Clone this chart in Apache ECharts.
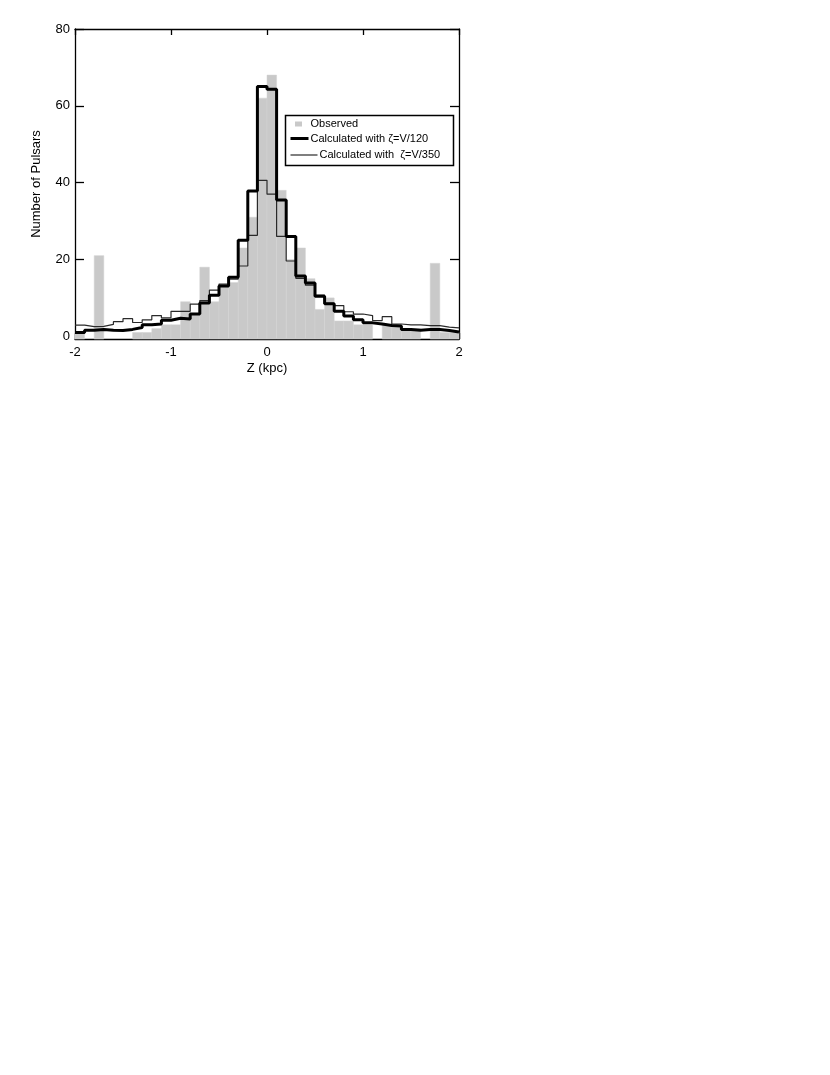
<!DOCTYPE html>
<html>
<head>
<meta charset="utf-8">
<title>Number of Pulsars vs Z</title>
<script src="https://cdn.jsdelivr.net/npm/echarts@6/dist/echarts.min.js"></script>
<style>
  html, body { margin: 0; padding: 0; background: #fff; }
  #main { width: 830px; height: 1075px; }
</style>
</head>
<body>
<div id="main"></div>
<script>
// bins of 0.1 kpc, left edge of each bin
var binStart = [-2.0,-1.9,-1.8,-1.7,-1.6,-1.5,-1.4,-1.3,-1.2,-1.1,
                -1.0,-0.9,-0.8,-0.7,-0.6,-0.5,-0.4,-0.3,-0.2,-0.1,
                 0.0, 0.1, 0.2, 0.3, 0.4, 0.5, 0.6, 0.7, 0.8, 0.9,
                 1.0, 1.1, 1.2, 1.3, 1.4, 1.5, 1.6, 1.7, 1.8, 1.9];
var binWidth = 0.1;

// observed pulsar counts (grey bars)
var observed = [1,0,21,0,0,0,1,1,2,3,
                3,9,6,18,9,13,14,23,31,62,
                68,38,20,23,15,7,10,4,4,3,
                3,0,3,3,2,2,0,19,1,1];
// calculated with zeta=V/120 (thick line)
var calc120 = [1.0,1.6,1.8,1.6,1.5,1.8,2.3,3.0,3.2,4.2,
               4.7,4.5,5.8,8.7,10.7,13.1,15.4,25.0,37.8,65.0,
               64.3,35.5,26.0,15.7,13.9,10.4,8.5,6.5,5.3,4.3,
               3.5,3.2,2.8,2.7,1.8,1.6,1.8,1.8,1.5,1.1];
// calculated with zeta=V/350 (thin line)
var calc350 = [2.9,2.5,2.6,3.1,3.8,4.6,3.6,4.3,5.4,4.8,
               6.5,6.5,8.4,9.3,12.0,13.6,14.9,18.3,26.3,40.6,
               37.0,26.0,19.6,15.1,13.3,10.7,8.6,8.0,6.4,5.8,
               5.4,4.1,5.1,3.2,3.0,3.0,2.8,2.8,2.4,2.2];

var xTicks = [-2, -1, 0, 1, 2];
var yTicks = [0, 20, 40, 60, 80];
var yMin = -0.7;

var legendNames = ['Observed', 'Calculated with \u03b6=V/120', 'Calculated with  \u03b6=V/350'];

var font = '"Liberation Sans", Arial, Helvetica, sans-serif';

// step line needs the left edge of every bin plus the right edge of the last one
function stepData(vals) {
  var out = [];
  for (var i = 0; i < vals.length; i++) {
    out.push([binStart[i], vals[i]]);
  }
  out.push([binStart[vals.length - 1] + binWidth, vals[vals.length - 1]]);
  return out;
}

var barData = [];
for (var i = 0; i < observed.length; i++) {
  barData.push([binStart[i], observed[i]]);
}

var myChart = echarts.init(document.getElementById('main'));
myChart.setOption({
  animation: false,
  backgroundColor: '#fff',
  grid: { left: 75, top: 29, width: 384, height: 310 },
  xAxis: [{
    type: 'value', min: -2, max: 2, interval: 1,
    position: 'bottom',
    name: 'Z (kpc)', nameLocation: 'middle', nameGap: 23,
    nameTextStyle: { fontSize: 13, color: '#000', fontFamily: font },
    axisLine: { show: true, onZero: false, lineStyle: { color: '#000', width: 1.3 } },
    axisTick: { show: true, inside: true, length: 6, lineStyle: { color: '#000', width: 1.3 } },
    axisLabel: { color: '#000', fontSize: 13, fontFamily: font, margin: 7 },
    splitLine: { show: false }
  }, {
    type: 'value', min: -2, max: 2, interval: 1,
    position: 'top',
    axisLine: { show: true, onZero: false, lineStyle: { color: '#000', width: 1.3 } },
    axisTick: { show: true, inside: true, length: 6, lineStyle: { color: '#000', width: 1.3 } },
    axisLabel: { show: false },
    splitLine: { show: false }
  }],
  yAxis: [{
    type: 'value', min: yMin, max: 80,
    position: 'left',
    name: 'Number of Pulsars', nameLocation: 'middle', nameGap: 32,
    nameTextStyle: { fontSize: 13, color: '#000', fontFamily: font },
    axisLine: { show: true, onZero: false, lineStyle: { color: '#000', width: 1.3 } },
    axisTick: { show: true, inside: true, length: 9, customValues: yTicks, lineStyle: { color: '#000', width: 1.3 } },
    axisLabel: { color: '#000', fontSize: 13, fontFamily: font, margin: 5, customValues: yTicks },
    splitLine: { show: false }
  }, {
    type: 'value', min: yMin, max: 80,
    position: 'right',
    axisLine: { show: true, onZero: false, lineStyle: { color: '#000', width: 1.3 } },
    axisTick: { show: true, inside: true, length: 9, customValues: yTicks, lineStyle: { color: '#000', width: 1.3 } },
    axisLabel: { show: false },
    splitLine: { show: false }
  }],
  series: [{
    name: legendNames[0],
    type: 'custom',
    xAxisIndex: 0, yAxisIndex: 0,
    encode: { x: 0, y: 1 },
    data: barData,
    z: 1,
    renderItem: function (params, api) {
      var x0 = api.value(0);
      var v = api.value(1);
      if (v <= 0) return null;
      var p1 = api.coord([x0, v]);
      var p2 = api.coord([x0 + binWidth, yMin]);
      return {
        type: 'rect',
        shape: { x: p1[0], y: p1[1], width: p2[0] - p1[0], height: p2[1] - p1[1] },
        style: { fill: '#c9c9c9', stroke: '#d3d3d3', lineWidth: 0.5 }
      };
    }
  }, {
    name: legendNames[2],
    type: 'line',
    step: 'end',
    data: stepData(calc350),
    symbol: 'none',
    z: 3,
    lineStyle: { color: '#2a2a2a', width: 1.2 }
  }, {
    name: legendNames[1],
    type: 'line',
    step: 'end',
    data: stepData(calc120),
    symbol: 'none',
    z: 4,
    lineStyle: { color: '#000', width: 3 }
  }],
  // legend box drawn by hand to match the original layout
  graphic: [{
    type: 'rect', z: 100,
    shape: { x: 285.5, y: 115.5, width: 168, height: 50 },
    style: { fill: '#fff', stroke: '#000', lineWidth: 1.5 }
  }, {
    type: 'rect', z: 101,
    shape: { x: 295, y: 121.5, width: 7, height: 5 },
    style: { fill: '#c9c9c9' }
  }, {
    type: 'text', z: 101, x: 310.5, y: 123.5,
    style: { text: legendNames[0], fill: '#000', font: '11px ' + font, textVerticalAlign: 'middle', verticalAlign: 'middle' }
  }, {
    type: 'line', z: 101,
    shape: { x1: 290.5, y1: 138.5, x2: 308.5, y2: 138.5 },
    style: { stroke: '#000', lineWidth: 3 }
  }, {
    type: 'text', z: 101, x: 310.5, y: 138.5,
    style: { text: legendNames[1], fill: '#000', font: '11px ' + font, textVerticalAlign: 'middle', verticalAlign: 'middle' }
  }, {
    type: 'line', z: 101,
    shape: { x1: 290.5, y1: 155, x2: 317.5, y2: 155 },
    style: { stroke: '#2a2a2a', lineWidth: 1.2 }
  }, {
    type: 'text', z: 101, x: 319.5, y: 155,
    style: { text: legendNames[2], fill: '#000', font: '11px ' + font, textVerticalAlign: 'middle', verticalAlign: 'middle' }
  }]
});
</script>
</body>
</html>
